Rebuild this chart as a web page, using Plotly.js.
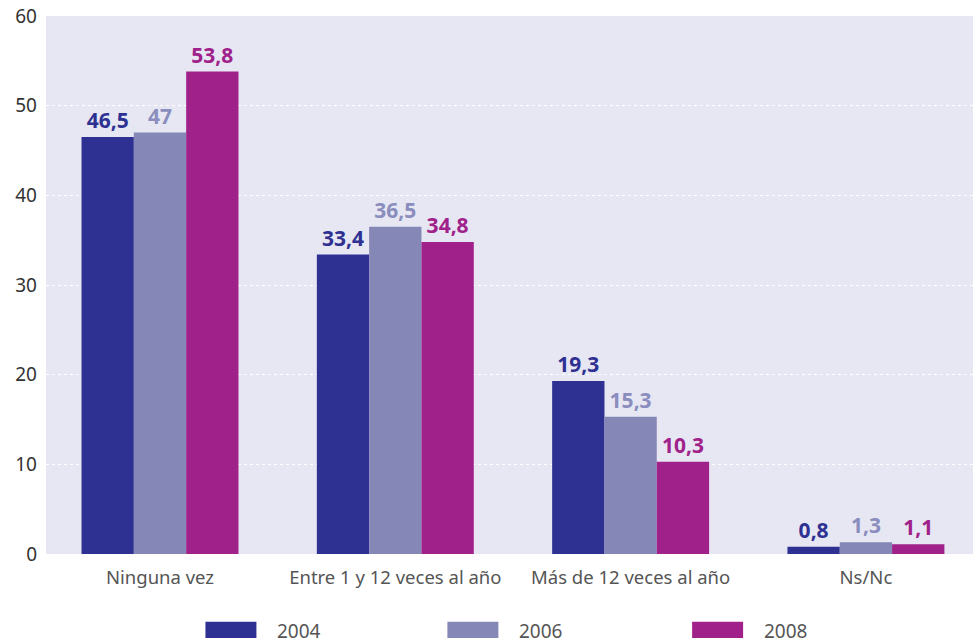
<!DOCTYPE html>
<html><head><meta charset="utf-8">
<script src="https://cdn.plot.ly/plotly-3.0.1.min.js"></script>
<style>html,body{margin:0;padding:0;background:#fff}</style>
</head><body><div id="chart" style="width:973px;height:643px"></div>
<script>
const categories = ["Ninguna vez", "Entre 1 y 12 veces al año", "Más de 12 veces al año", "Ns/Nc"];
const seriesNames = ["2004", "2006", "2008"];
const values2004 = [46.5, 33.4, 19.3, 0.8];
const values2006 = [47, 36.5, 15.3, 1.3];
const values2008 = [53.8, 34.8, 10.3, 1.1];
const yTicks = [0, 10, 20, 30, 40, 50, 60];

const colors = ["#2e3192", "#8588b6", "#a1218b"];
const textColors = ["#2e3192", "#8a8dbd", "#a1218b"];
const allValues = [values2004, values2006, values2008];
const fmt = v => String(v).replace('.', ',');
const font = "'Noto Sans', 'Open Sans', sans-serif";

const traces = allValues.map((vals, i) => ({
  type: 'bar', x: categories, y: vals, name: seriesNames[i],
  marker: {color: colors[i]},
  text: vals.map(fmt), textposition: 'outside', cliponaxis: false, constraintext: 'none',
  textfont: {family: font, size: 21, color: textColors[i], weight: 'bold'},
  showlegend: false, hoverinfo: 'skip'
}));

const legendX = [0.172, 0.433, 0.697];
const shapes = [], annotations = [];
seriesNames.forEach((n, i) => {
  const x0 = legendX[i];
  shapes.push({type: 'rect', xref: 'paper', yref: 'paper', x0: x0, x1: x0 + 0.055,
    y0: -0.156, y1: -0.126, fillcolor: colors[i], line: {width: 0}});
  annotations.push({xref: 'paper', yref: 'paper', x: x0 + 0.075, y: -0.144, text: n,
    showarrow: false, xanchor: 'left', yanchor: 'middle',
    font: {family: font, size: 19, color: '#555'}});
});

const layout = {
  width: 973, height: 643,
  margin: {l: 46, r: 0, t: 16, b: 89},
  paper_bgcolor: '#ffffff', plot_bgcolor: '#e6e7f3',
  barmode: 'group', bargap: 0.333, bargroupgap: 0,
  xaxis: {type: 'category', range: [-0.4845, 3.455], showgrid: false, zeroline: false,
    tickfont: {family: font, size: 18.5, color: '#555'}, ticks: '', ticklen: 0, ticklabelstandoff: 10},
  yaxis: {range: [0, 60], tickvals: yTicks, ticktext: yTicks.map(String),
    showgrid: true, gridcolor: '#ffffff', griddash: 'dot', gridwidth: 1, zeroline: false,
    tickfont: {family: font, size: 19, color: '#333'}, ticks: '', ticklen: 0, ticklabelstandoff: 8},
  shapes: shapes, annotations: annotations,
  showlegend: false
};
Plotly.newPlot('chart', traces, layout, {displayModeBar: false, staticPlot: true});
</script></body></html>
